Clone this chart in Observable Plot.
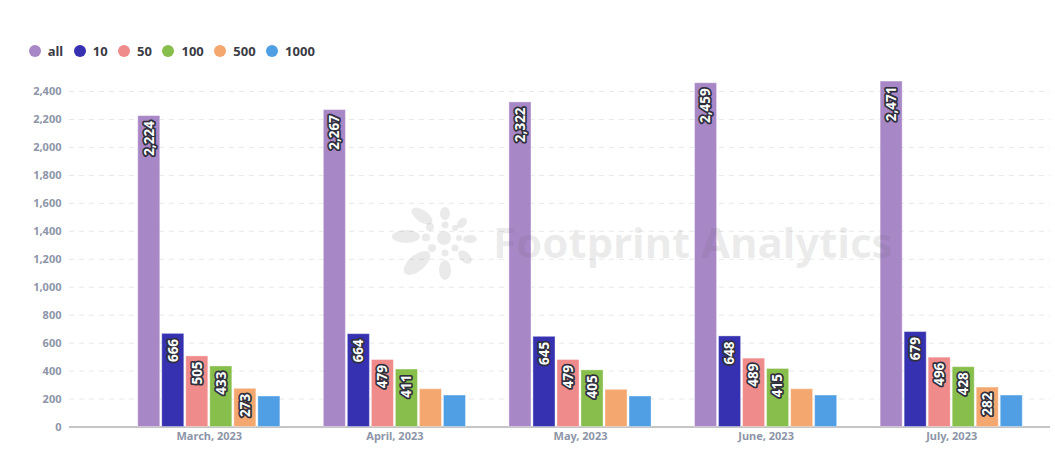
<!DOCTYPE html>
<html><head><meta charset="utf-8">
<script src="https://cdn.jsdelivr.net/npm/d3@7"></script>
<script src="https://cdn.jsdelivr.net/npm/@observablehq/plot@0.6"></script>
<style>
body{margin:0;background:#fff;font-family:"Noto Sans",sans-serif;}
#wrap{position:relative;width:1055px;height:463px;overflow:hidden;background:#fff}
#wrap svg{position:absolute;left:0;top:0}
#legend{position:absolute;left:28.7px;top:41px;display:flex;align-items:center;font-size:13px;font-weight:700;color:#3b3b45;line-height:20px;font-family:"Noto Sans",sans-serif}
.item{display:flex;align-items:center;margin-right:10.5px}
.sw{width:12px;height:12px;border-radius:50%;margin-right:7px}
</style></head><body><div id="wrap"></div>
<script>
// ---- data ----
const months = ["March, 2023", "April, 2023", "May, 2023", "June, 2023", "July, 2023"];
const seriesNames = ["all", "10", "50", "100", "500", "1000"];
const seriesColors = ["#a887c6", "#3531b0", "#f08b8b", "#88be4b", "#f4a86f", "#509fe4"];
const valuesAll = [2224, 2267, 2322, 2459, 2471];
const values10 = [666, 664, 645, 648, 679];
const values50 = [505, 479, 479, 489, 496];
const values100 = [433, 411, 405, 415, 428];
const values500 = [273, 270, 266, 270, 282];
const values1000 = [218, 225, 218, 225, 225];
const yTicks = [0, 200, 400, 600, 800, 1000, 1200, 1400, 1600, 1800, 2000, 2200, 2400];
const unlabeledSeries = ["1000"];
const unlabeledBars = [["April, 2023", "500"], ["May, 2023", "500"], ["June, 2023", "500"]];

const seriesValues = [valuesAll, values10, values50, values100, values500, values1000];
const data = [];
months.forEach((m, i) => seriesNames.forEach((s, j) => data.push({month: m, series: s, value: seriesValues[j][i]})));
const labelData = data.filter(d => !unlabeledSeries.includes(d.series) &&
  !unlabeledBars.some(([m, s]) => m === d.month && s === d.series));

const fmt = d3.format(",");
const W = 1055, H = 463;
const wrap = document.getElementById("wrap");
const baseStyle = {background: "transparent", fontFamily: "'Noto Sans', sans-serif", fontSize: "11px", fontWeight: "bold", color: "#8d95a8", overflow: "visible"};

// background: grid, baseline, y axis
const bg = Plot.plot({
  width: W, height: H, marginTop: 91, marginBottom: 36.5, marginLeft: 69, marginRight: 5,
  style: baseStyle,
  y: {domain: [0, 2400], ticks: yTicks, tickFormat: d => fmt(d), tickSize: 0, tickPadding: 8, label: null},
  marks: [
    Plot.ruleY(yTicks.filter(d => d > 0), {stroke: "#e8e8e8", strokeDasharray: "5,5"}),
    Plot.ruleY([0], {stroke: "#8c8c8c", strokeWidth: 1})
  ]
});
wrap.appendChild(bg);

// foreground: grouped bars
const fg = Plot.plot({
  width: W, height: H, marginTop: 91, marginBottom: 36.5, marginLeft: 116, marginRight: 11,
  style: baseStyle,
  fx: {domain: months, padding: 0, round: false, label: null, tickSize: 0, tickPadding: 5, axis: "bottom"},
  x: {domain: seriesNames, axis: null, round: false, paddingInner: 0.083, paddingOuter: 0.905},
  y: {domain: [0, 2400], axis: null},
  color: {domain: seriesNames, range: seriesColors},
  marks: [
    Plot.barY(data, {fx: "month", x: "series", y: "value", fill: "series", stroke: "#ffffff", strokeOpacity: 0.35, strokeWidth: 1}),
    Plot.text(labelData, {
      fx: "month", x: "series", y: "value", text: d => fmt(d.value),
      rotate: -90, textAnchor: "end", lineAnchor: "middle", dy: 5,
      fill: "white", stroke: "#2f2f3d", strokeWidth: 3.5, paintOrder: "stroke",
      fontSize: 13.5, fontWeight: "bold"
    })
  ]
});
wrap.appendChild(fg);

// watermark (decoration)
const wm = `<svg width="${W}" height="${H}" style="pointer-events:none">
<g fill="rgb(96,96,104)" fill-opacity="0.13">
<ellipse cx="406" cy="236.5" rx="14" ry="6.5"/>
<ellipse cx="422" cy="216" rx="12" ry="6" transform="rotate(35 422 216)"/>
<ellipse cx="445" cy="213.5" rx="5" ry="6.5"/>
<ellipse cx="462" cy="223" rx="6" ry="4" transform="rotate(-45 462 223)"/>
<ellipse cx="470" cy="239" rx="7" ry="4"/>
<ellipse cx="465" cy="257" rx="8" ry="5" transform="rotate(45 465 257)"/>
<ellipse cx="445" cy="270" rx="6" ry="10"/>
<ellipse cx="417" cy="263" rx="16" ry="8" transform="rotate(-40 417 263)"/>
<circle cx="444" cy="238" r="7"/>
<circle cx="430" cy="227" r="4"/><circle cx="426" cy="237.5" r="4"/>
<circle cx="445" cy="225" r="3.5"/><circle cx="455" cy="228" r="3"/>
<circle cx="459" cy="238" r="3"/><circle cx="455" cy="248" r="3.5"/>
<circle cx="445" cy="253" r="3.5"/><circle cx="432" cy="248" r="4"/>
<text x="493" y="258" font-family="'Noto Sans', sans-serif" font-weight="bold" font-size="42">Footprint Analytics</text>
</g></svg>`;
wrap.insertAdjacentHTML("beforeend", wm);

// legend
const legend = document.createElement("div");
legend.id = "legend";
seriesNames.forEach((s, i) => {
  const it = document.createElement("div");
  it.className = "item";
  it.innerHTML = `<span class="sw" style="background:${seriesColors[i]}"></span><span>${s}</span>`;
  legend.appendChild(it);
});
wrap.appendChild(legend);
</script></body></html>
